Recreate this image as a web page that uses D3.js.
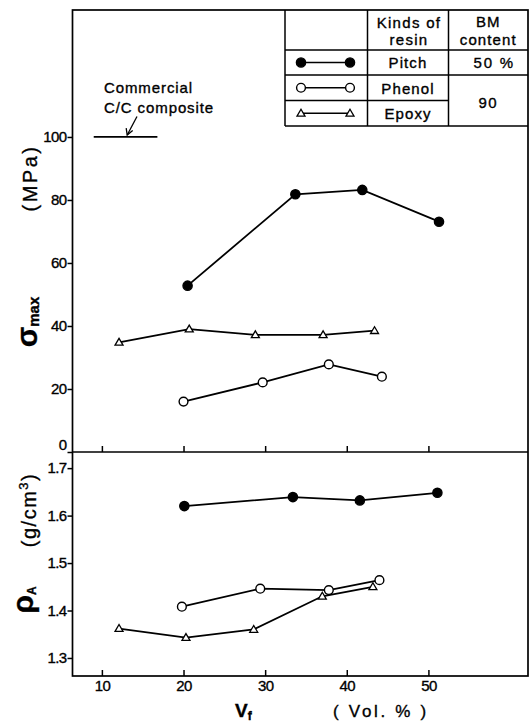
<!DOCTYPE html>
<html>
<head>
<meta charset="utf-8">
<script src="https://cdn.jsdelivr.net/npm/d3@7"></script>
<style>
  body { margin: 0; background: #fff; }
  text { font-family: "Liberation Sans", Arial, sans-serif; fill: #000; stroke: #000; stroke-width: 0.35; }
</style>
</head>
<body>
<div class="container"></div>
<script>
// tick labels
const xTicks = [10, 20, 30, 40, 50];
const sigmaTicks = [0, 20, 40, 60, 80, 100];
const rhoTicks = [1.3, 1.4, 1.5, 1.6, 1.7];

// legend table
const resinNames = ['Pitch', 'Phenol', 'Epoxy'];
const bmContent = ['50 %', '90'];

// sigma_max (MPa) vs Vf
const pitchVfS = [20.5, 33.7, 41.9, 51.3];
const pitchSigma = [52.8, 81.8, 83.2, 73.1];
const phenolVfS = [20.0, 29.7, 37.8, 44.3];
const phenolSigma = [16.0, 22.1, 27.8, 23.9];
const epoxyVfS = [12.1, 20.7, 28.8, 37.1, 43.4];
const epoxySigma = [34.8, 39.0, 37.2, 37.2, 38.5];

// rho_A (g/cm3) vs Vf
const pitchVfR = [20.1, 33.4, 41.6, 51.1];
const pitchRho = [1.620, 1.639, 1.632, 1.648];
const phenolVfR = [19.8, 29.4, 37.8, 44.0];
const phenolRho = [1.408, 1.446, 1.443, 1.464];
const epoxyVfR = [12.1, 20.3, 28.6, 37.0, 43.2];
const epoxyRho = [1.362, 1.343, 1.360, 1.430, 1.450];

// commercial C/C composite reference
const commercialVf = [9.0, 16.8];
const commercialSigma = 100;

const width = 531;
const height = 725;
const pLeft = 72.5, pRight = 528, pTop = 10, pMid = 452, pBottom = 676;

const x = d3.scaleLinear().domain([6.4, 62.2]).range([pLeft, pRight]);
const yTop = d3.scaleLinear().domain([0, 140.3]).range([pMid, pTop]);
const yBot = d3.scaleLinear().domain([1.262, 1.734]).range([pBottom, pMid]);

const svg = d3.select('.container')
  .append('svg')
  .attr('width', width)
  .attr('height', height);

// frame + divider
svg.append('rect')
  .attr('x', pLeft).attr('y', pTop)
  .attr('width', pRight - pLeft).attr('height', pBottom - pTop)
  .attr('fill', 'none').attr('stroke', '#000').attr('stroke-width', 1.7);
svg.append('line')
  .attr('x1', pLeft).attr('x2', pRight).attr('y1', pMid).attr('y2', pMid)
  .attr('stroke', '#000').attr('stroke-width', 1.7);

const styleAxis = g => {
  g.select('.domain').remove();
  g.selectAll('.tick line').attr('stroke-width', 1.5);
  g.selectAll('.tick text')
    .attr('font-family', '"Liberation Sans", Arial, sans-serif')
    .attr('font-size', 15)
    .attr('letter-spacing', -0.6)
    .attr('fill', '#000');
};

// y axes
svg.append('g')
  .attr('transform', `translate(${pLeft},0)`)
  .call(d3.axisLeft(yTop).tickValues(sigmaTicks).tickSize(5).tickPadding(1))
  .call(styleAxis)
  .call(g => g.selectAll('.tick text').filter(d => d === 0).attr('dy', '-0.15em'));

svg.append('g')
  .attr('transform', `translate(${pLeft},0)`)
  .call(d3.axisLeft(yBot).tickValues(rhoTicks).tickSize(5).tickPadding(1).tickFormat(d3.format('.1f')))
  .call(styleAxis);

// x axis (ticks pointing inwards)
svg.append('g')
  .attr('transform', `translate(0,${pBottom})`)
  .call(d3.axisBottom(x).tickValues(xTicks).tickSize(-6).tickPadding(4))
  .call(styleAxis);

svg.append('g')
  .attr('transform', `translate(0,${pMid})`)
  .call(d3.axisBottom(x).tickValues(xTicks).tickSize(-6).tickFormat(''))
  .call(styleAxis);

// series
const series = [
  { name: 'Pitch', kind: 'filled', sig: pitchVfS.map((v, i) => [v, pitchSigma[i]]), rho: pitchVfR.map((v, i) => [v, pitchRho[i]]) },
  { name: 'Phenol', kind: 'open', sig: phenolVfS.map((v, i) => [v, phenolSigma[i]]), rho: phenolVfR.map((v, i) => [v, phenolRho[i]]) },
  { name: 'Epoxy', kind: 'tri', sig: epoxyVfS.map((v, i) => [v, epoxySigma[i]]), rho: epoxyVfR.map((v, i) => [v, epoxyRho[i]]) }
];

const drawMarker = (sel, kind) => {
  if (kind === 'tri') {
    sel.append('path')
      .attr('d', 'M0,-4L4,2.8L-4,2.8Z')
      .attr('fill', '#fff').attr('stroke', '#000').attr('stroke-width', 1.3);
  } else {
    sel.append('circle')
      .attr('r', kind === 'filled' ? 4.6 : 4.4)
      .attr('fill', kind === 'filled' ? '#000' : '#fff')
      .attr('stroke', '#000').attr('stroke-width', 1.4);
  }
};

const drawSeries = (data, yScale, kind) => {
  svg.append('path')
    .datum(data)
    .attr('fill', 'none').attr('stroke', '#000').attr('stroke-width', 1.8)
    .attr('d', d3.line().x(d => x(d[0])).y(d => yScale(d[1])));
  svg.append('g').selectAll('g')
    .data(data).join('g')
    .attr('transform', d => `translate(${x(d[0])},${yScale(d[1])})`)
    .each(function () { drawMarker(d3.select(this), kind); });
};

series.forEach(s => {
  drawSeries(s.sig, yTop, s.kind);
  drawSeries(s.rho, yBot, s.kind);
});

// commercial C/C composite
svg.append('line')
  .attr('x1', x(commercialVf[0])).attr('x2', x(commercialVf[1]))
  .attr('y1', yTop(commercialSigma)).attr('y2', yTop(commercialSigma))
  .attr('stroke', '#000').attr('stroke-width', 1.8);
svg.append('text')
  .attr('x', 104).attr('y', 93)
  .attr('font-size', 15).attr('letter-spacing', 0.9)
  .text('Commercial');
svg.append('text')
  .attr('x', 104).attr('y', 113)
  .attr('font-size', 15).attr('letter-spacing', 0.9)
  .text('C/C composite');
const ax1 = x(14.3), ay1 = yTop(106.5), ax2 = x(13.1), ay2 = yTop(100.6);
svg.append('line')
  .attr('x1', ax1).attr('y1', ay1).attr('x2', ax2).attr('y2', ay2)
  .attr('stroke', '#000').attr('stroke-width', 1.3);
svg.append('path')
  .attr('d', `M${ax2 - 1},${ay2 - 7}L${ax2},${ay2}L${ax2 + 5.5},${ay2 - 4.5}`)
  .attr('fill', 'none').attr('stroke', '#000').attr('stroke-width', 1.3);

// axis titles
const sig = svg.append('text')
  .attr('transform', 'translate(37,322) rotate(-90)')
  .attr('text-anchor', 'middle')
  .attr('font-weight', 'bold');
sig.append('tspan').attr('font-size', 30).text('σ');
sig.append('tspan').attr('font-size', 15).attr('dy', 2).text('max');

svg.append('text')
  .attr('transform', 'translate(37,178) rotate(-90)')
  .attr('text-anchor', 'middle')
  .attr('font-size', 20).attr('letter-spacing', 2.5)
  .text('(MPa)');

const rho = svg.append('text')
  .attr('transform', 'translate(33,600) rotate(-90)')
  .attr('text-anchor', 'middle')
  .attr('font-weight', 'bold');
rho.append('tspan').attr('font-size', 30).text('ρ');
rho.append('tspan').attr('font-size', 12).attr('dy', 3).text('A');

const gcm = svg.append('text')
  .attr('transform', 'translate(36,510) rotate(-90)')
  .attr('text-anchor', 'middle')
  .attr('font-size', 20).attr('letter-spacing', 1.5);
gcm.append('tspan').text('(g/cm');
gcm.append('tspan').attr('font-size', 13).attr('dy', -8).text('3');
gcm.append('tspan').attr('dy', 8).text(')');

const vf = svg.append('text')
  .attr('x', 235).attr('y', 717)
  .attr('font-weight', 'bold');
vf.append('tspan').attr('font-size', 19).text('V');
vf.append('tspan').attr('font-size', 12).attr('dy', 3).text('f');

svg.append('text')
  .attr('x', 333).attr('y', 717)
  .attr('font-size', 17).attr('letter-spacing', 2.7)
  .text('( Vol. % )');

// legend table
const tx = [285, 367.5, 448.5, pRight];
const ty = [pTop, 50, 75, 100.5, 126];
const tg = svg.append('g');
const tline = (x1, y1, x2, y2) => tg.append('line')
  .attr('x1', x1).attr('y1', y1).attr('x2', x2).attr('y2', y2)
  .attr('stroke', '#000').attr('stroke-width', 1.5);
tline(tx[0], ty[0], tx[0], ty[4]);
tline(tx[1], ty[0], tx[1], ty[4]);
tline(tx[2], ty[0], tx[2], ty[4]);
tline(tx[0], ty[4], tx[3], ty[4]);
tline(tx[0], ty[1], tx[3], ty[1]);
tline(tx[0], ty[2], tx[3], ty[2]);
tline(tx[0], ty[3], tx[2], ty[3]);

const cell = (cx, cy, t, ls) => tg.append('text')
  .attr('x', cx).attr('y', cy)
  .attr('text-anchor', 'middle')
  .attr('font-size', 15).attr('letter-spacing', ls)
  .text(t);
const c1 = (tx[1] + tx[2]) / 2, c2 = (tx[2] + tx[3]) / 2;
cell(c1 + 1, 28, 'Kinds of', 1.3);
cell(c1 + 1, 45, 'resin', 1.3);
cell(c2, 27, 'BM', 1.1);
cell(c2, 45, 'content', 1.1);
resinNames.forEach((n, i) => cell(c1, [68, 94, 119][i], n, 1.1));
cell(c2 + 6, 68, bmContent[0], 1.8);
cell(c2, 108, bmContent[1], 1.5);

series.forEach((s, i) => {
  const cy = (ty[i + 1] + ty[i + 2]) / 2;
  tg.append('line')
    .attr('x1', 301).attr('x2', 350).attr('y1', cy).attr('y2', cy)
    .attr('stroke', '#000').attr('stroke-width', 1.6);
  [301, 350].forEach(px => {
    const m = tg.append('g').attr('transform', `translate(${px},${cy})`);
    drawMarker(m, s.kind);
  });
});
</script>
</body>
</html>
